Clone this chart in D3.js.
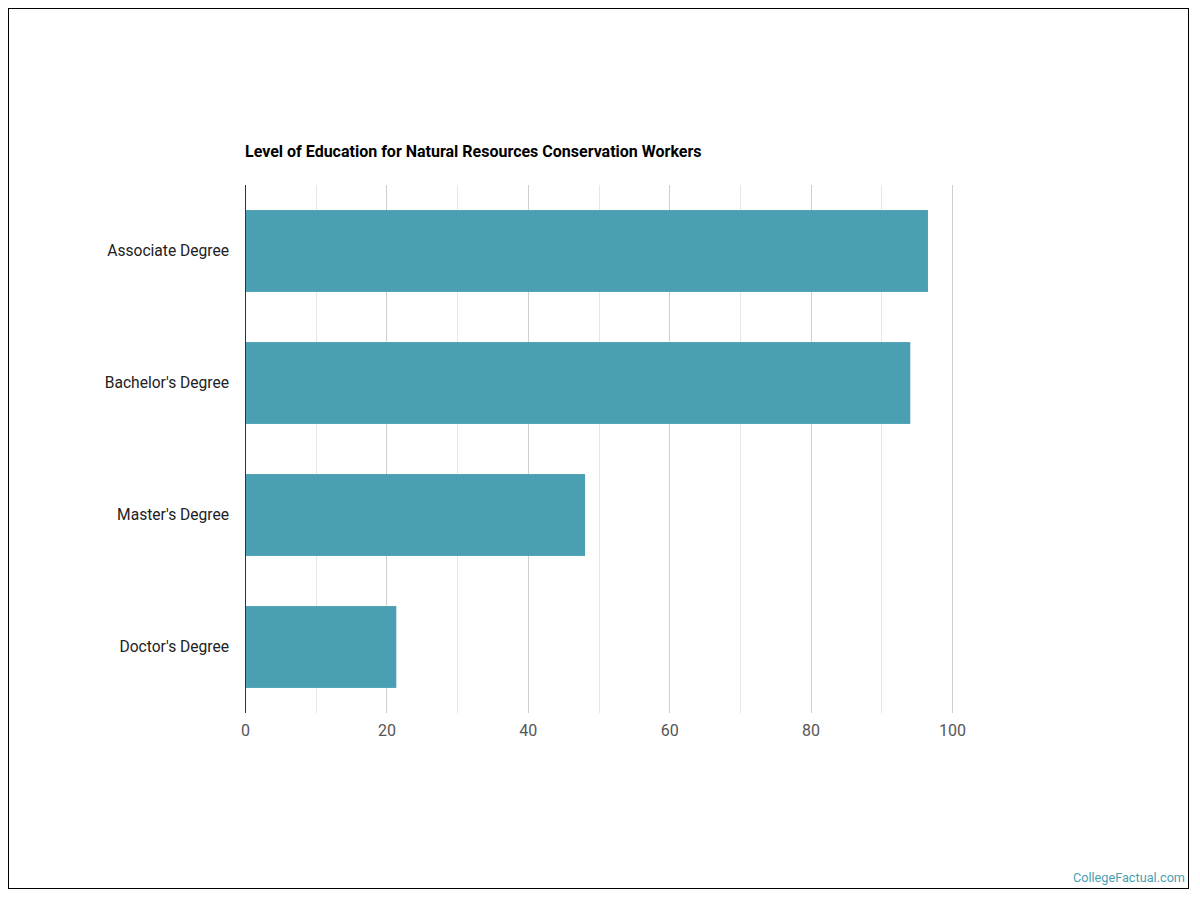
<!DOCTYPE html>
<html>
<head>
<meta charset="utf-8">
<script src="https://cdn.jsdelivr.net/npm/d3@7"></script>
<style>
  body { margin: 0; background: #fff; }
  svg { font-family: Roboto, sans-serif; }
</style>
</head>
<body>
<div class="myChart"></div>
<script>
// data
const categories = ["Associate Degree", "Bachelor's Degree", "Master's Degree", "Doctor's Degree"];
const values = [96.6, 94.1, 48.1, 21.4];
const tickValues = [0, 20, 40, 60, 80, 100];
const gridValues = [10, 20, 30, 40, 50, 60, 70, 80, 90, 100];

const W = 1200, H = 900;
const margin = {top: 185, right: 248, bottom: 187, left: 245};
const width = W - margin.left - margin.right;
const height = H - margin.top - margin.bottom;

const svg = d3.select(".myChart").append("svg").attr("width", W).attr("height", H);

// outer frame
svg.append("rect")
    .attr("x", 8.5).attr("y", 8.5)
    .attr("width", 1180).attr("height", 880)
    .attr("fill", "none").attr("stroke", "#000").attr("stroke-width", 1);

svg.append("text")
    .attr("x", margin.left).attr("y", 157)
    .attr("font-size", 16).attr("font-weight", "bold").attr("fill", "#000")
    .text("Level of Education for Natural Resources Conservation Workers");

const x = d3.scaleLinear().domain([0, 100]).range([0, width]);
const y = d3.scaleBand().domain(categories).range([0, height]).paddingInner(0.38).paddingOuter(0.19);

const g = svg.append("g").attr("transform", "translate(" + margin.left + "," + margin.top + ")");

// gridlines
g.selectAll(".grid")
    .data(gridValues)
    .enter().append("line")
    .attr("x1", d => Math.round(x(d)) + 0.5).attr("x2", d => Math.round(x(d)) + 0.5)
    .attr("y1", 0).attr("y2", height)
    .attr("stroke", d => d % 20 === 0 ? "#cfcfcf" : "#e6e6e6")
    .attr("stroke-width", 1);

g.selectAll(".bar")
    .data(values)
    .enter().append("rect")
    .attr("x", 0)
    .attr("y", (d, i) => y(categories[i]))
    .attr("width", d => x(d))
    .attr("height", y.bandwidth())
    .attr("fill", "#4a9fb2");

// zero axis line
g.append("line")
    .attr("x1", 0.5).attr("x2", 0.5).attr("y1", 0).attr("y2", height)
    .attr("stroke", "#333").attr("stroke-width", 1);

const xAxis = g.append("g")
    .attr("transform", "translate(0," + height + ")")
    .call(d3.axisBottom(x).tickValues(tickValues).tickSize(0).tickPadding(12));
xAxis.select(".domain").remove();
xAxis.selectAll("text")
    .attr("font-family", "Roboto, sans-serif")
    .attr("font-size", 16).attr("fill", "#555");

const yAxis = g.append("g")
    .call(d3.axisLeft(y).tickSize(0).tickPadding(16));
yAxis.select(".domain").remove();
yAxis.selectAll("text")
    .attr("font-family", "Roboto, sans-serif")
    .attr("font-size", 15.6).attr("fill", "#222");

svg.append("text")
    .attr("x", 1185).attr("y", 882)
    .attr("text-anchor", "end")
    .attr("font-size", 12.7).attr("fill", "#4a9fb2")
    .text("CollegeFactual.com");
</script>
</body>
</html>
